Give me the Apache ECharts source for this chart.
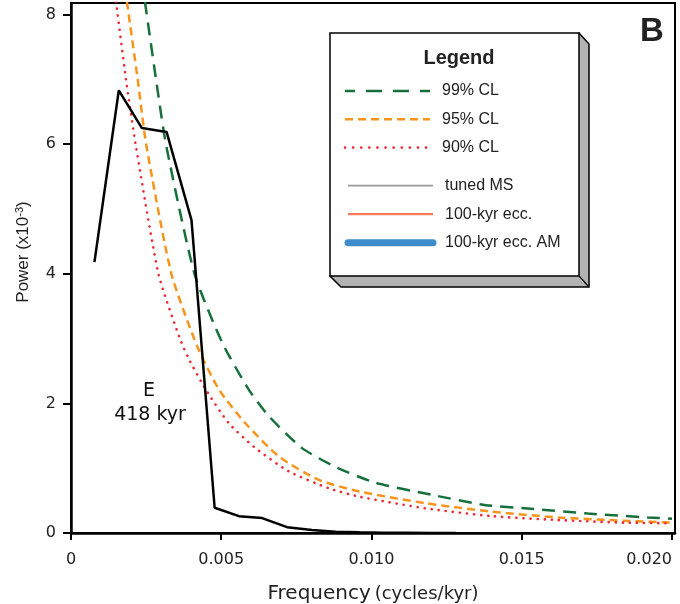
<!DOCTYPE html>
<html>
<head>
<meta charset="utf-8">
<script src="https://cdn.jsdelivr.net/npm/echarts@6/dist/echarts.min.js"></script>
<style>
  html, body { margin: 0; padding: 0; background: #fff; }
  #main { width: 680px; height: 604px; }
</style>
</head>
<body>
<div id="main"></div>
<script>
// tick values
var xTicks = [0, 0.005, 0.010, 0.015, 0.020];
var yTicks = [0, 2, 4, 6, 8];

// power spectrum of the record (freq in cycles/kyr, power x10^-3)
var specFreq = [0.00078, 0.00159, 0.00236, 0.00318, 0.00401, 0.00478, 0.00559, 0.00636, 0.00719, 0.00802, 0.0088, 0.0096, 0.0104, 0.0112, 0.0120, 0.0128];
var specPower = [4.18, 6.83, 6.25, 6.19, 4.83, 0.39, 0.26, 0.23, 0.09, 0.046, 0.02, 0.01, 0.005, 0.003, 0.001, 0];

// confidence levels
var cl99Freq = [0.00246, 0.00283, 0.00316, 0.00411, 0.00504, 0.00592, 0.00659, 0.00769, 0.0088, 0.0101, 0.0120, 0.0138, 0.0154, 0.0172, 0.0192, 0.0200];
var cl99Power = [8.2, 7.0, 6.0, 4.0, 2.93, 2.21, 1.80, 1.31, 1.02, 0.78, 0.59, 0.43, 0.37, 0.30, 0.24, 0.22];

var cl95Freq = [0.00186, 0.00222, 0.0025, 0.00334, 0.00421, 0.00493, 0.00581, 0.00692, 0.00824, 0.0096, 0.0118, 0.0140, 0.0162, 0.0184, 0.0200];
var cl95Power = [8.2, 7.0, 6.0, 4.0, 2.87, 2.21, 1.69, 1.18, 0.82, 0.64, 0.46, 0.33, 0.24, 0.19, 0.16];

var cl90Freq = [0.0015, 0.00183, 0.00215, 0.00291, 0.0036, 0.00393, 0.00449, 0.00526, 0.00614, 0.00725, 0.00858, 0.0096, 0.0118, 0.0140, 0.0162, 0.0184, 0.0200];
var cl90Power = [8.2, 7.0, 6.0, 4.0, 3.03, 2.68, 2.21, 1.69, 1.31, 0.95, 0.69, 0.56, 0.38, 0.26, 0.20, 0.16, 0.15];

// legend entries
var clNames = ['99% CL', '95% CL', '90% CL'];
var otherNames = ['tuned MS', '100-kyr ecc.', '100-kyr ecc. AM'];

var colors = {
  cl99: '#17703c', cl95: '#f7941d', cl90: '#ee2a36',
  tuned: '#999999', ecc: '#f37b5c', am: '#3d8ccb'
};

function pairs(xs, ys) {
  return xs.map(function (x, i) { return [x, ys[i]]; });
}

var sans = '"Liberation Sans", Arial, sans-serif';
var wide = '"DejaVu Sans", sans-serif';
var chart = echarts.init(document.getElementById('main'));

// legend box drawn as graphic (box with 3D shadow)
var legendGraphic = [
  {
    type: 'polygon', z: 3,
    shape: { points: [[579, 33], [589, 44], [589, 287], [341, 287], [330, 276]] },
    style: { fill: '#b3b3b3', stroke: '#000', lineWidth: 1.5 }
  },
  {
    type: 'line', z: 3,
    shape: { x1: 579, y1: 276, x2: 589, y2: 287 },
    style: { stroke: '#000', lineWidth: 1.2 }
  },
  {
    type: 'rect', z: 4,
    shape: { x: 330, y: 33, width: 249, height: 243 },
    style: { fill: '#fff', stroke: '#000', lineWidth: 1.5 }
  },
  {
    type: 'text', z: 5, x: 459, y: 58,
    style: { text: 'Legend', fontSize: 20, fontWeight: 'bold', fill: '#222', fontFamily: sans, align: 'center', verticalAlign: 'middle' }
  }
];
var clStyles = [
  { stroke: colors.cl99, lineWidth: 2.5, lineDash: [16, 11], lineDashOffset: 6 },
  { stroke: colors.cl95, lineWidth: 2.5, lineDash: [8, 5] },
  { stroke: colors.cl90, lineWidth: 2.6, lineDash: [0.1, 8], lineCap: 'round' }
];
var otherStyles = [
  { stroke: colors.tuned, lineWidth: 1.8 },
  { stroke: colors.ecc, lineWidth: 2.2 },
  { stroke: colors.am, lineWidth: 7, lineCap: 'round' }
];
clNames.forEach(function (name, i) {
  var y = 91 + i * 28.3;
  legendGraphic.push({ type: 'line', z: 5, shape: { x1: 345, y1: y, x2: 430, y2: y }, style: clStyles[i] });
  legendGraphic.push({ type: 'text', z: 5, x: 442, y: y,
    style: { text: name, fontSize: 16, fill: '#222', fontFamily: sans, verticalAlign: 'middle' } });
});
otherNames.forEach(function (name, i) {
  var y = 185.7 + i * 28.5;
  legendGraphic.push({ type: 'line', z: 5, shape: { x1: 348, y1: y, x2: 433, y2: y }, style: otherStyles[i] });
  legendGraphic.push({ type: 'text', z: 5, x: 445, y: y,
    style: { text: name, fontSize: 16, fill: '#222', fontFamily: sans, verticalAlign: 'middle' } });
});

var option = {
  animation: false,
  textStyle: { fontFamily: wide },
  grid: {
    left: 71, right: 5, top: 3, bottom: 71,
    outerBoundsMode: 'none',
    show: true, borderColor: '#000', borderWidth: 2
  },
  xAxis: {
    type: 'value',
    min: 0, max: 0.0201,
    axisLine: { lineStyle: { color: '#000', width: 2.5 } },
    axisTick: { customValues: xTicks, length: 7, lineStyle: { color: '#000', width: 2 } },
    axisLabel: {
      customValues: xTicks, margin: 19, fontSize: 16, color: '#222', fontFamily: wide,
      alignMaxLabel: 'right',
      formatter: function (v) { return v === 0 ? '0' : v.toFixed(3); }
    },
    splitLine: { show: false },
    name: '{a|Frequency} {b|(cycles/kyr)}',
    nameLocation: 'middle',
    nameGap: 51,
    nameTextStyle: {
      rich: {
        a: { fontSize: 20, color: '#222', fontFamily: wide },
        b: { fontSize: 18, color: '#222', fontFamily: wide }
      }
    }
  },
  yAxis: {
    type: 'value',
    min: 0, max: 8.18,
    axisLine: { show: true, lineStyle: { color: '#000', width: 2.5 } },
    axisTick: { show: true, customValues: yTicks, length: 8, lineStyle: { color: '#000', width: 2 } },
    axisLabel: { customValues: yTicks, margin: 15, fontSize: 16, color: '#222', fontFamily: wide },
    splitLine: { show: false },
    name: '{a|Power (x10}{s|-3}{a|)}',
    nameLocation: 'middle',
    nameGap: 38,
    nameTextStyle: {
      padding: [0, 0, 0, 32],
      rich: {
        a: { fontSize: 17, color: '#222', fontFamily: sans },
        s: { fontSize: 11, color: '#222', fontFamily: sans, verticalAlign: 'top', padding: [0, 0, 8, 0] }
      }
    }
  },
  graphic: legendGraphic.concat([
    {
      type: 'text', z: 5, x: 149, y: 391,
      style: { text: 'E', fontSize: 19, fill: '#111', fontFamily: wide, align: 'center', verticalAlign: 'middle' }
    },
    {
      type: 'text', z: 5, x: 150, y: 415,
      style: { text: '418 kyr', fontSize: 19, fill: '#111', fontFamily: wide, align: 'center', verticalAlign: 'middle' }
    },
    {
      type: 'text', z: 5, x: 652, y: 32,
      style: { text: 'B', fontSize: 33, fontWeight: 'bold', fill: '#222', fontFamily: sans, align: 'center', verticalAlign: 'middle' }
    }
  ]),
  series: [
    {
      name: clNames[0], type: 'line', symbol: 'none', smooth: 0.2, z: 3,
      data: pairs(cl99Freq, cl99Power),
      lineStyle: { color: colors.cl99, width: 2.5, type: [13, 8] }
    },
    {
      name: clNames[1], type: 'line', symbol: 'none', smooth: 0.2, z: 3,
      data: pairs(cl95Freq, cl95Power),
      lineStyle: { color: colors.cl95, width: 2.5, type: [8, 5] }
    },
    {
      name: clNames[2], type: 'line', symbol: 'none', smooth: 0.2, z: 3,
      data: pairs(cl90Freq, cl90Power),
      lineStyle: { color: colors.cl90, width: 2.6, type: [0.1, 7], cap: 'round' }
    },
    {
      name: 'spectrum', type: 'line', symbol: 'none', z: 4,
      data: pairs(specFreq, specPower),
      lineStyle: { color: '#000', width: 2.5 }
    }
  ]
};

chart.setOption(option);
</script>
</body>
</html>
